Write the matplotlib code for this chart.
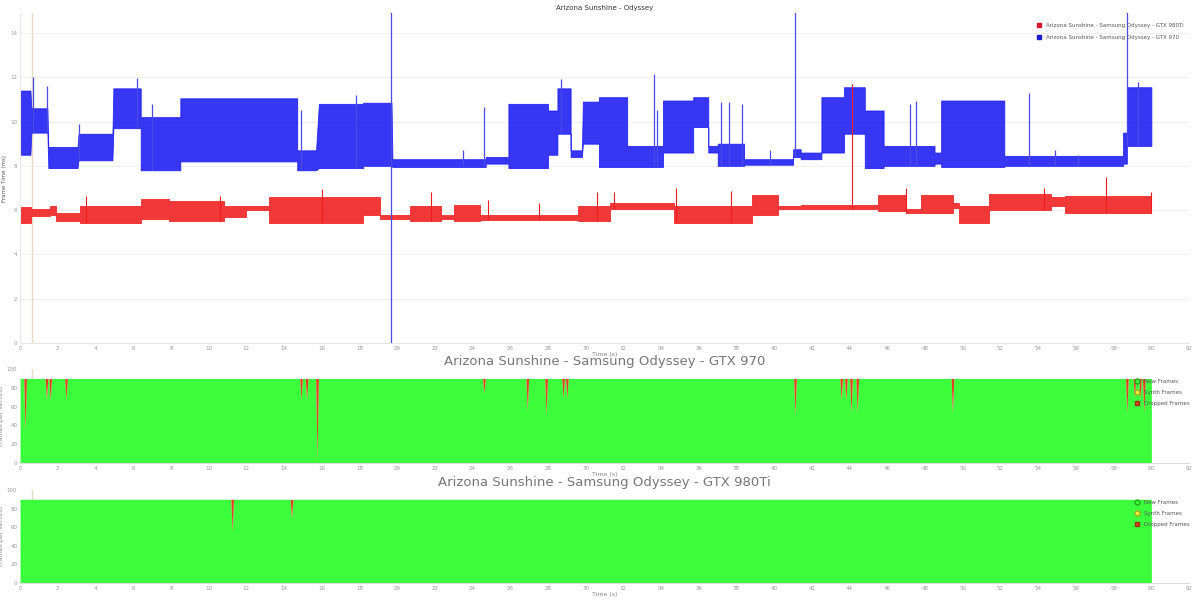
import numpy as np
import matplotlib
matplotlib.use("Agg")
import matplotlib.pyplot as plt
from matplotlib.lines import Line2D

plt.rcParams['font.family'] = ['DejaVu Sans']

# ---------------- data: frame times (ms), segment envelopes ----------------
# GTX 970 (blue)
b_start = [0.05, 0.6, 1.5, 3.1, 4.95, 6.4, 8.5, 14.7, 15.85, 18.2, 19.75, 24.7, 25.9, 28.0, 28.5, 29.2,
           29.85, 30.7, 32.2, 34.1, 35.7, 36.5, 37.0, 38.4, 41.0, 41.4, 42.5, 43.7, 44.8, 45.8, 48.5,
           48.85, 52.2, 58.5, 58.7]
b_end = [0.55, 1.45, 3.05, 4.9, 6.4, 8.5, 14.7, 15.7, 18.2, 19.7, 24.7, 25.9, 28.0, 28.5, 29.2, 29.8,
         30.7, 32.2, 34.1, 35.7, 36.5, 37.0, 38.4, 41.0, 41.4, 42.5, 43.7, 44.8, 45.8, 48.5, 48.85,
         52.2, 58.5, 58.7, 60.0]
b_low = [8.5, 9.5, 7.9, 8.25, 9.7, 7.8, 8.2, 7.8, 7.9, 8.0, 7.95, 8.1, 7.9, 8.5, 9.45, 8.4,
         9.0, 7.95, 7.95, 8.6, 9.75, 8.6, 8.0, 8.05, 8.4, 8.3, 8.6, 9.45, 7.9, 8.0, 8.1,
         7.95, 8.0, 8.1, 8.9]
b_high = [11.4, 10.6, 8.85, 9.45, 11.5, 10.2, 11.05, 8.7, 10.8, 10.85, 8.3, 8.4, 10.8, 10.5, 11.5, 8.7,
          10.9, 11.1, 8.9, 10.95, 11.1, 8.9, 9.0, 8.3, 8.75, 8.6, 11.1, 11.55, 10.5, 8.9, 8.6,
          10.95, 8.45, 9.5, 11.55]
b_spike_t = [0.7, 1.45, 3.15, 6.2, 7.0, 14.9, 17.8, 19.7, 23.5, 24.6, 28.7, 33.6, 33.8, 37.2, 37.6,
             38.3, 39.8, 41.1, 44.1, 47.2, 47.5, 53.5, 54.9, 56.1, 58.7, 59.3]
b_spike_v = [12.0, 11.6, 9.9, 11.95, 10.8, 10.5, 11.2, 16.0, 8.7, 10.65, 11.9, 12.15, 10.5, 10.9, 10.9,
             10.8, 8.7, 16.0, 11.7, 10.8, 10.95, 11.3, 8.7, 8.5, 16.0, 11.8]
b_spike_floor = [None, None, None, None, None, None, None, 0.0, None, None, None, None, None, None, None,
                 None, None, None, None, None, None, None, None, None, None, None]

# GTX 980Ti (red)
r_start = [0.05, 0.6, 1.6, 1.9, 3.2, 6.4, 7.9, 10.8, 12.0, 13.2, 18.2, 19.1, 20.7, 22.3, 23.0, 24.4,
           29.6, 31.3, 34.7, 38.8, 40.2, 41.4, 45.5, 47.0, 47.8, 49.5, 49.8, 51.4, 54.7, 55.4]
r_end = [0.6, 1.6, 1.9, 3.2, 6.4, 7.9, 10.8, 12.0, 13.2, 18.2, 19.1, 20.7, 22.3, 23.0, 24.4, 29.6,
         31.3, 34.7, 38.8, 40.2, 41.4, 45.5, 47.0, 47.8, 49.5, 49.8, 51.4, 54.7, 55.4, 60.0]
r_low = [5.4, 5.75, 5.8, 5.5, 5.4, 5.6, 5.5, 5.7, 6.0, 5.4, 5.8, 5.6, 5.5, 5.6, 5.5, 5.55,
         5.5, 6.05, 5.4, 5.8, 6.05, 6.05, 5.95, 5.85, 5.85, 6.1, 5.4, 6.0, 6.2, 5.85]
r_high = [6.15, 6.05, 6.2, 5.85, 6.2, 6.5, 6.4, 6.2, 6.2, 6.6, 6.6, 5.8, 6.2, 5.8, 6.25, 5.8,
          6.2, 6.3, 6.2, 6.7, 6.2, 6.25, 6.7, 6.05, 6.7, 6.3, 6.2, 6.75, 6.6, 6.65]
r_spike_t = [3.5, 10.6, 16.0, 21.8, 24.8, 27.5, 30.6, 31.5, 34.8, 37.7, 44.1, 47.0, 54.3, 57.6, 60.0]
r_spike_v = [6.65, 6.65, 6.95, 6.8, 6.45, 6.3, 6.8, 6.8, 7.0, 6.85, 11.7, 7.0, 7.0, 7.5, 6.8]

marker_t = 0.64  # cursor line

# ---------------- data: dropped frames (time, new frames at dip) ----------------
fps_target = 90
drop970_t = [0.27, 1.4, 1.6, 2.44, 14.9, 15.2, 15.75, 24.6, 26.9, 27.9, 28.8, 29.0, 41.1,
             43.55, 43.8, 44.07, 44.4, 49.45, 58.7, 59.1, 59.4, 59.6]
drop970_v = [35, 67, 67, 67, 67, 67, 3, 74, 56, 51, 69, 69, 51,
             67, 67, 53, 53, 53, 53, 69, 68, 53]
drop980_t = [11.25, 14.4]
drop980_v = [55, 69]

title_top = "Arizona Sunshine - Odyssey"
label_980 = "Arizona Sunshine - Samsung Odyssey - GTX 980Ti"
label_970 = "Arizona Sunshine - Samsung Odyssey - GTX 970"
xticks = list(range(0, 64, 2))

BLUE = '#1a1af2'
RED = '#f01c1c'
GREEN = '#3bfd3b'
DROP = '#e0401f'
TAN = '#e6dcc2'
TICK_C = '#9a9a9a'


def envelope(starts, ends, lows, highs):
    t, lo, hi = [], [], []
    for s, e, l, h in zip(starts, ends, lows, highs):
        t += [s, e]
        lo += [l, l]
        hi += [h, h]
    return np.array(t), np.array(lo), np.array(hi)


fig = plt.figure(figsize=(12.0, 6.01), dpi=100)

# ---------------- top chart ----------------
ax = fig.add_axes([0.0167, 0.4293, 0.9742, 0.549])
ax.axvline(marker_t, color=TAN, lw=1.0, zorder=1)
for s, col in [((b_start, b_end, b_low, b_high), BLUE), ((r_start, r_end, r_low, r_high), RED)]:
    t, lo, hi = envelope(*s)
    ax.fill_between(t, lo, hi, color=col, alpha=0.88, lw=0.6, edgecolor=col, zorder=3)
bt, blo, bhi = envelope(b_start, b_end, b_low, b_high)
bbase = [f if f is not None else np.interp(st, bt, blo) for st, f in zip(b_spike_t, b_spike_floor)]
ax.vlines(b_spike_t, bbase, b_spike_v, color='#4a4ae6', lw=0.9, zorder=3)
rt, rlo, rhi = envelope(r_start, r_end, r_low, r_high)
ax.vlines(r_spike_t, np.interp(r_spike_t, rt, rlo), r_spike_v, color=RED, lw=0.8, zorder=3)

ax.set_xlim(0, 62)
ax.set_ylim(0, 14.9)
ax.set_xticks(xticks)
ax.set_yticks(range(0, 16, 2))
ax.grid(axis='y', color='#eeeeee', lw=0.6)
ax.set_axisbelow(True)
ax.tick_params(labelsize=4, colors=TICK_C, length=0, pad=2)
for sp in ['top', 'right']:
    ax.spines[sp].set_visible(False)
for sp in ['left', 'bottom']:
    ax.spines[sp].set_color('#e6e6e6')
ax.set_title(title_top, fontsize=5, color='#333333', pad=2)
ax.set_xlabel("Time (s)", fontsize=4.5, color='#888888', labelpad=1)
ax.set_ylabel("Frame Time (ms)", fontsize=4, color='#555555', labelpad=2)
h1 = Line2D([], [], marker='s', ls='', color='#d8182a', ms=3)
h2 = Line2D([], [], marker='s', ls='', color='#1a1ad0', ms=3)
ax.legend([h1, h2], [label_980, label_970], loc='upper right', bbox_to_anchor=(1.0, 0.985),
          fontsize=4, frameon=False, handletextpad=0.4, labelspacing=1.2, labelcolor='#555555')


# ---------------- frame charts ----------------
def frame_chart(rect, title, dt, dv):
    a = fig.add_axes(rect)
    t = [0.0]
    nv = [fps_target]
    for ti, vi in zip(dt, dv):
        t += [ti - 0.07, ti, ti + 0.07]
        nv += [fps_target, vi, fps_target]
    t.append(60.0)
    nv.append(fps_target)
    t = np.array(t)
    nv = np.array(nv)
    a.axvline(marker_t, color=TAN, lw=1.0, zorder=1)
    a.fill_between(t, 0, nv, color=GREEN, lw=0, zorder=2)
    a.fill_between(t, nv, fps_target, color=DROP, lw=0, zorder=2)
    a.set_xlim(0, 62)
    a.set_ylim(0, 100)
    a.set_xticks(xticks)
    a.set_yticks(range(0, 101, 20))
    a.tick_params(labelsize=4, colors=TICK_C, length=0, pad=2)
    for sp in ['top', 'right', 'left']:
        a.spines[sp].set_visible(False)
    a.spines['bottom'].set_color('#dddddd')
    a.set_title(title, fontsize=9.5, color='#777777', pad=3)
    a.set_xlabel("Time (s)", fontsize=4.5, color='#888888', labelpad=1)
    a.set_ylabel("Frames per second", fontsize=4.5, color='#888888', labelpad=2)
    hs = [Line2D([], [], marker='o', ls='', mfc=GREEN, mec='#22aa22', ms=3.5),
          Line2D([], [], marker='o', ls='', mfc='#f5f53a', mec='#aaaa22', ms=3.5),
          Line2D([], [], marker='s', ls='', mfc=DROP, mec='#993311', ms=3.5)]
    a.legend(hs, ["New Frames", "Synth Frames", "Dropped Frames"], loc='upper right',
             bbox_to_anchor=(1.005, 0.95), fontsize=4, frameon=False, handletextpad=0.3,
             labelspacing=1.1, labelcolor='#555555', markerfirst=True)
    return a


frame_chart([0.0167, 0.2296, 0.9742, 0.1564], label_970, drop970_t, drop970_v)
frame_chart([0.0167, 0.0300, 0.9742, 0.1547], label_980, drop980_t, drop980_v)

fig.savefig("out.png", dpi=100)
